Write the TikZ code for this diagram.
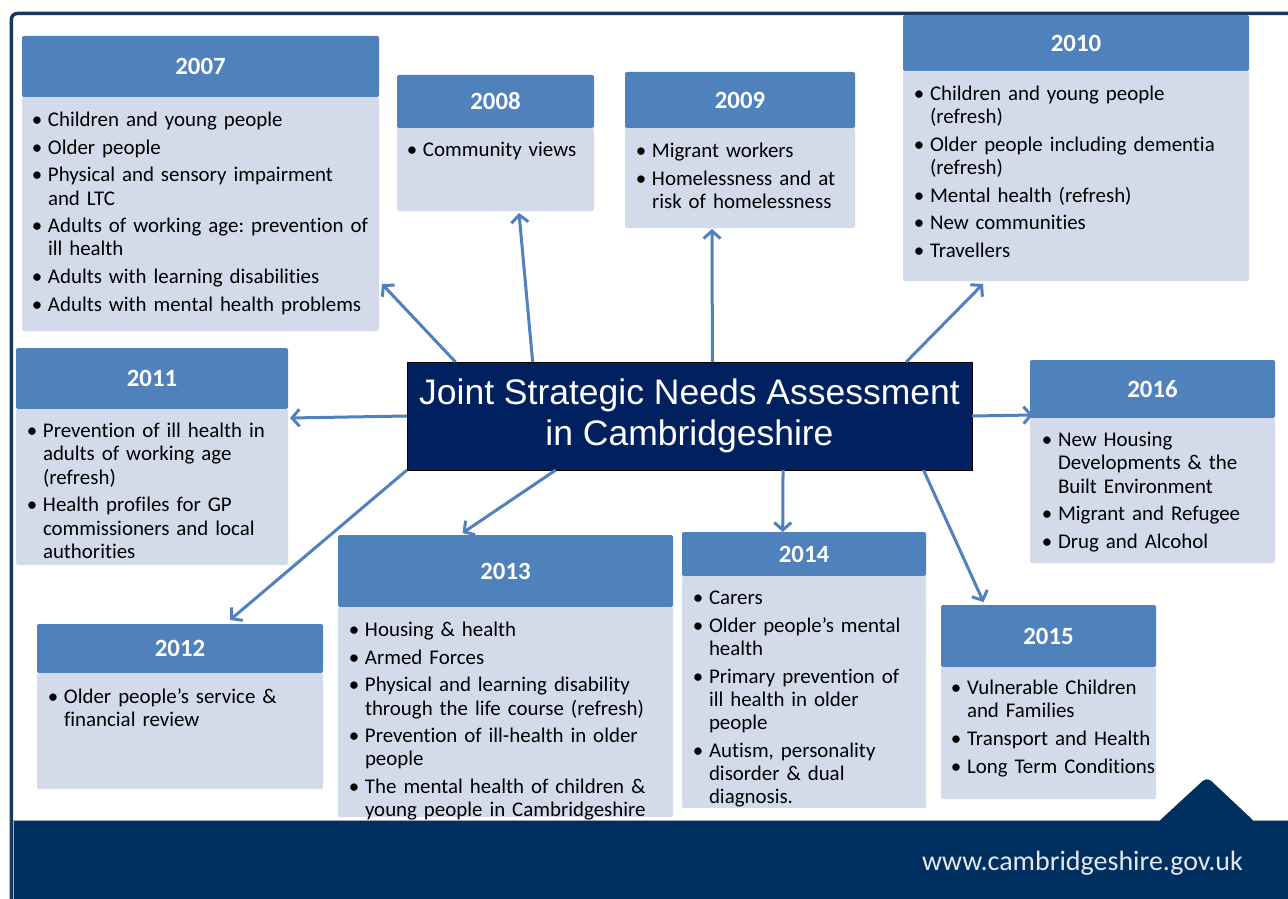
\documentclass[tikz,border=0pt]{standalone}
\usepackage{fontspec}
\setmainfont{Carlito}[Ligatures={NoCommon}]
\newfontfamily\titlefont{Liberation Sans}
\usetikzlibrary{arrows.meta}
\definecolor{hdrc}{HTML}{4F81BD}
\definecolor{bdyc}{HTML}{D3DAEA}
\definecolor{navy}{HTML}{002060}
\definecolor{barc}{HTML}{003060}
\definecolor{framec}{HTML}{17375E}
\definecolor{arrc}{HTML}{4F81BD}
\definecolor{urlc}{HTML}{E4E8EE}
\definecolor{barline}{HTML}{9AAABD}
\frenchspacing
\newcommand\hdrfont{\fontsize{24.8}{29}\selectfont\bfseries}
\newcommand\bodyfont{\fontsize{20.9}{23.3}\selectfont\frenchspacing}
\newcommand\itm[1]{\setlength\parskip{4.3pt}\hangindent=11pt\hangafter=1\noindent\makebox[0pt]{\textbullet}\hspace*{11pt}#1\par}
\tikzset{
  hdr/.style={fill=hdrc, rounded corners=2pt, anchor=north west, inner sep=0pt, outer sep=0pt, text=white, font=\hdrfont},
  bdy/.style={fill=bdyc, rounded corners=2pt, anchor=north west, inner sep=0pt, outer sep=0pt},
  txt/.style={anchor=base west, inner sep=0pt, outer sep=0pt, text width=#1, align=left, font=\bodyfont, text=black},
  arr/.style={draw=arrc, line width=3pt, -{Straight Barb[length=7.5pt,width=17pt]}},
}
\begin{document}
\begin{tikzpicture}[x=1pt, y=-1pt]
\useasboundingbox (0,0) rectangle (1288,899);
\clip (0,0) rectangle (1288,899);
\fill[white] (0,0) rectangle (1288,899);
% frame
\draw[framec, line width=3.5pt, rounded corners=6pt] (1310,13.5) -- (11.3,13.5) -- (11.3,920);
% bottom bar
\fill[barc] (13.5,820) rectangle (1300,910);
\draw[barline, line width=0.8pt] (13.5,910) -- (13.5,820) -- (1300,820);
\fill[barc, rounded corners=6pt] (1157,823) -- (1207,777) -- (1256,823) -- cycle;
\node[anchor=base east, inner sep=0pt, text=urlc, font=\fontsize{28}{32}\selectfont] (url) at (1243,870) {www.cambridgeshire.gov.uk};

% 2007
\node[hdr, minimum width=357, minimum height=61] (h2007) at (22,36) {2007};
\node[bdy, minimum width=357, minimum height=234] (b2007) at (22,97) {};
\node[txt=380pt] (t2007) at (37,126.5) {\itm{Children and young people}\itm{Older people}\itm{Physical and sensory impairment\newline and LTC}\itm{Adults of working age: prevention of\newline ill health}\itm{Adults with learning disabilities}\itm{Adults with mental health problems}};
% 2008
\node[hdr, minimum width=197, minimum height=53] (h2008) at (397,75) {2008};
\node[bdy, minimum width=197, minimum height=83] (b2008) at (397,128) {};
\node[txt=220pt] (t2008) at (412,156.5) {\itm{Community views}};
% 2009
\node[hdr, minimum width=230, minimum height=56] (h2009) at (625,72) {2009};
\node[bdy, minimum width=230, minimum height=100] (b2009) at (625,128) {};
\node[txt=250pt] (t2009) at (641,157.5) {\itm{Migrant workers}\itm{Homelessness and at\newline risk of homelessness}};
% 2010
\node[hdr, minimum width=346, minimum height=56] (h2010) at (903,15) {2010};
\node[bdy, minimum width=346, minimum height=210] (b2010) at (903,71) {};
\node[txt=370pt] (t2010) at (919,100.5) {\itm{Children and young people\newline (refresh)}\itm{Older people including dementia\newline (refresh)}\itm{Mental health (refresh)}\itm{New communities}\itm{Travellers}};
% 2011
\node[hdr, minimum width=272, minimum height=61] (h2011) at (16,348) {2011};
\node[bdy, minimum width=272, minimum height=156] (b2011) at (16,409) {};
\node[txt=300pt] (t2011) at (32,437.5) {\itm{Prevention of ill health in\newline adults of working age\newline (refresh)}\itm{Health profiles for GP\newline commissioners and local\newline authorities}};
% 2016
\node[hdr, minimum width=245, minimum height=58] (h2016) at (1030,360) {2016};
\node[bdy, minimum width=245, minimum height=145] (b2016) at (1030,418) {};
\node[txt=270pt] (t2016) at (1047,446.5) {\itm{New Housing\newline Developments \& the\newline Built Environment}\itm{Migrant and Refugee}\itm{Drug and Alcohol}};
% 2012
\node[hdr, minimum width=286, minimum height=49] (h2012) at (37,624) {2012};
\node[bdy, minimum width=286, minimum height=116] (b2012) at (37,673) {};
\node[txt=310pt] (t2012) at (53,703.5) {\itm{Older people’s service \&\newline financial review}};
% 2013
\node[hdr, minimum width=335, minimum height=72] (h2013) at (338,535) {2013};
\node[bdy, minimum width=335, minimum height=210] (b2013) at (338,607) {};
\node[txt=360pt] (t2013) at (354,636.5) {\itm{Housing \& health}\itm{Armed Forces}\itm{Physical and learning disability\newline through the life course (refresh)}\itm{Prevention of ill-health in older\newline people}\itm{The mental health of children \&\newline young people in Cambridgeshire}};
% 2014
\node[hdr, minimum width=244, minimum height=44] (h2014) at (682,532) {2014};
\node[bdy, minimum width=244, minimum height=232] (b2014) at (682,576) {};
\node[txt=270pt] (t2014) at (698,604.5) {\itm{Carers}\itm{Older people’s mental\newline health}\itm{Primary prevention of\newline ill health in older\newline people}\itm{Autism, personality\newline disorder \& dual\newline diagnosis.}};
% 2015
\node[hdr, minimum width=215, minimum height=62] (h2015) at (941,605) {2015};
\node[bdy, minimum width=215, minimum height=132] (b2015) at (941,667) {};
\node[txt=250pt] (t2015) at (956,694.5) {\itm{Vulnerable Children\newline and Families}\itm{Transport and Health}\itm{Long Term Conditions}};

% centre
\node[draw=black, line width=0.8pt, fill=navy, minimum width=565, minimum height=108, inner sep=0pt, outer sep=0pt, text=white, font=\titlefont\fontsize{35.5}{41}\selectfont, align=center] (jsna) at (689.5,416) {Joint Strategic Needs Assessment\\in Cambridgeshire};

% arrows
\draw[arr] (jsna.167.79) -- ([shift={(3,-47)}]b2007.south east);
\draw[arr] (jsna.161.30) -- ([shift={(23.5,2)}]b2008.south);
\draw[arr] (jsna.67.38) -- ([shift={(-28,1)}]b2009.south);
\draw[arr] (jsna.14.19) -- ([shift={(80,3)}]b2010.south west);
\draw[arr] (jsna.180.2) -- ([shift={(2,9)}]b2011.north east);
\draw[arr] (jsna.-0.81) -- ([shift={(3,-3)}]h2016.south west);
\draw[arr] (jsna.south west) -- ([shift={(50,-4)}]h2012.north);
\draw[arr] (jsna.202.95) -- ([shift={(-43,-2)}]h2013.north);
\draw[arr] (jsna.330) -- ([shift={(-21.3,0)}]h2014.north);
\draw[arr] (jsna.347.64) -- ([shift={(-65,-3)}]h2015.north);
\end{tikzpicture}
\end{document}
